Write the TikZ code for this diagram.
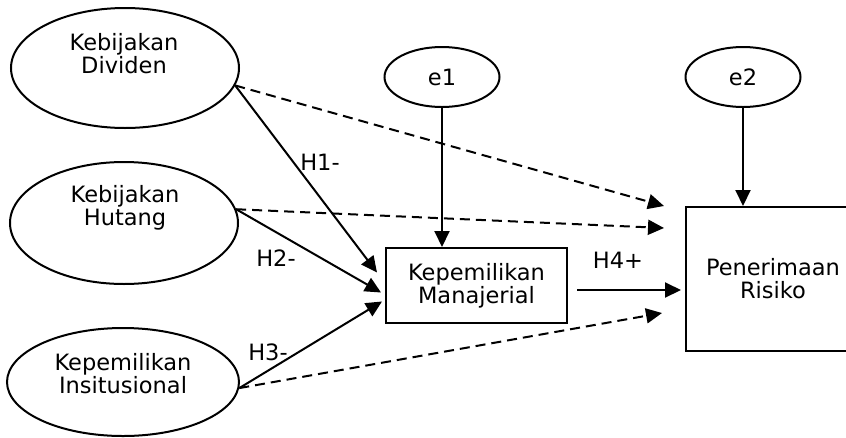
\documentclass[tikz,border=0pt]{standalone}
\usepackage{fontspec}
\setmainfont{DejaVu Sans}
\usetikzlibrary{shapes.geometric,arrows.meta,calc}
\begin{document}
\begin{tikzpicture}[x=1pt,y=-1pt,
  oval/.style={draw,ellipse,line width=2pt,inner sep=0pt},
  box/.style={draw,rectangle,line width=2pt,inner sep=0pt,align=center,font=\fontsize{22.5}{23}\selectfont},
  txt/.style={align=center,font=\fontsize{22.5}{23}\selectfont,inner sep=0pt},
  lbl/.style={font=\fontsize{22.5}{23}\selectfont,inner sep=0pt},
  arr/.style={line width=2pt,-{Triangle[length=16pt,width=15pt]}},
  darr/.style={arr,dash pattern=on 10pt off 6pt}]
\clip (0,0) rectangle (846,437);
\fill[white] (0,0) rectangle (846,437);
% latent variables
\node[oval,minimum width=228,minimum height=120] (d) at (125,68) {};
\node[txt] (dt) at (124,54) {Kebijakan\\Dividen};
\node[oval,minimum width=228,minimum height=122] (h) at (124,223) {};
\node[txt] (ht) at (125,208) {Kebijakan\\Hutang};
\node[oval,minimum width=232,minimum height=108] (i) at (123,382) {};
\node[txt] (it) at (123,374) {Kepemilikan\\Insitusional};
\node[oval,minimum width=115,minimum height=60,font=\fontsize{22.5}{23}\selectfont] (e1) at (442,77) {e1};
\node[oval,minimum width=115,minimum height=60,font=\fontsize{22.5}{23}\selectfont] (e2) at (743,77) {e2};
% boxes
\node[box,minimum width=181,minimum height=75] (km) at (476.5,285.5) {Kepemilikan\\Manajerial};
\node[box,minimum width=174,minimum height=144] (pr) at (773,279) {Penerimaan\\Risiko};
% solid paths
\draw[arr] (d.-9) -- ($(km.west)+(-8,-13)$);
\draw[arr] (h.7) -- ($(km.west)+(-4,7)$);
\draw[arr] (i.-3) -- ($(km.west)+(-3,16)$);
\draw[arr] (e1.south) -- (e1.south |- km.north);
\draw[arr] (e2.south) -- (e2.south |- pr.north);
\draw[arr] ($(km.east)+(9,4.5)$) coordinate (s4) -- ($(pr.west |- s4)+(-4,0)$);
% dashed paths
\draw[darr] (d.-9) -- ($(pr.north west)+(-21,0)$);
\draw[darr] (h.7) -- ($(pr.north west)+(-21,22)$);
\draw[darr] (i.-3) -- ($(pr.west)+(-23,34)$);
% labels
\node[lbl] (l1) at (320,162) {H1-};
\node[lbl] (l2) at (276,258) {H2-};
\node[lbl] (l3) at (268,352) {H3-};
\node[lbl] (l4) at (618,260) {H4+};
\end{tikzpicture}
\end{document}
